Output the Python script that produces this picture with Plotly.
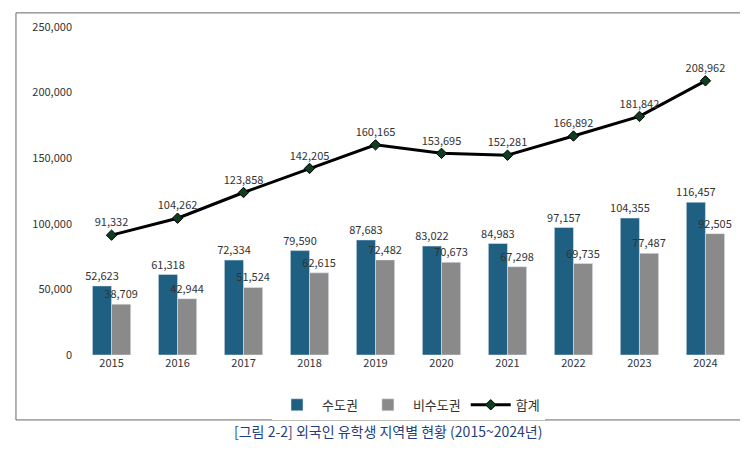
import plotly.graph_objects as go

years = ['2015', '2016', '2017', '2018', '2019', '2020', '2021', '2022', '2023', '2024']
capital = [52623, 61318, 72334, 79590, 87683, 83022, 84983, 97157, 104355, 116457]
non_capital = [38709, 42944, 51524, 62615, 72482, 70673, 67298, 69735, 77487, 92505]
total = [91332, 104262, 123858, 142205, 160165, 153695, 152281, 166892, 181842, 208962]

font = 'Noto Sans CJK KR'

fig = go.Figure()
fig.add_trace(go.Bar(
    x=years, y=capital, name='수도권', marker_color='#1f5f82',
    text=[f'{v:,}' for v in capital], textposition='outside', textangle=0,
    constraintext='none', textfont=dict(size=11, color='#333333'), cliponaxis=False
))
fig.add_trace(go.Bar(
    x=years, y=non_capital, name='비수도권', marker_color='#8a8a8a',
    text=[f'{v:,}' for v in non_capital], textposition='outside', textangle=0,
    constraintext='none', textfont=dict(size=11, color='#333333'), cliponaxis=False
))
fig.add_trace(go.Scatter(
    x=years, y=total, name='합계', mode='lines+markers+text',
    line=dict(color='black', width=3),
    marker=dict(symbol='diamond', size=8, color='#0f3d1f', line=dict(color='black', width=1)),
    text=[f'{v:,}' for v in total], textposition='top center',
    textfont=dict(size=11, color='#333333'), cliponaxis=False
))

fig.update_layout(
    width=748, height=459,
    margin=dict(l=65, r=12, t=19, b=112, autoexpand=False),
    plot_bgcolor='white', paper_bgcolor='white',
    font=dict(family=font, size=11, color='#333333'),
    barmode='group', bargap=0.42, bargroupgap=0,
    uniformtext=dict(minsize=11, mode='show'),
    showlegend=True,
    legend=dict(orientation='h', x=0.5, xanchor='center', y=-0.152, yanchor='middle',
                font=dict(size=13), itemwidth=40),
    xaxis=dict(showgrid=False, showline=False, ticks='', tickfont=dict(size=11), automargin=False),
    yaxis=dict(range=[0, 250000], dtick=50000, tickformat=',', showgrid=False,
               zeroline=False, showline=False, tickfont=dict(size=11), automargin=False),
    shapes=[dict(type='rect', xref='paper', yref='paper', x0=-0.085, x1=1.006,
                 y0=-0.198, y1=1.043, line=dict(color='#666666', width=1))],
    annotations=[dict(text='[그림 2-2] 외국인 유학생 지역별 현황 (2015~2024년)',
                      xref='paper', yref='paper', x=0.47, y=-0.268, showarrow=False,
                      font=dict(size=14, color='#1f3f7f'))]
)

fig.write_html('out.html')
